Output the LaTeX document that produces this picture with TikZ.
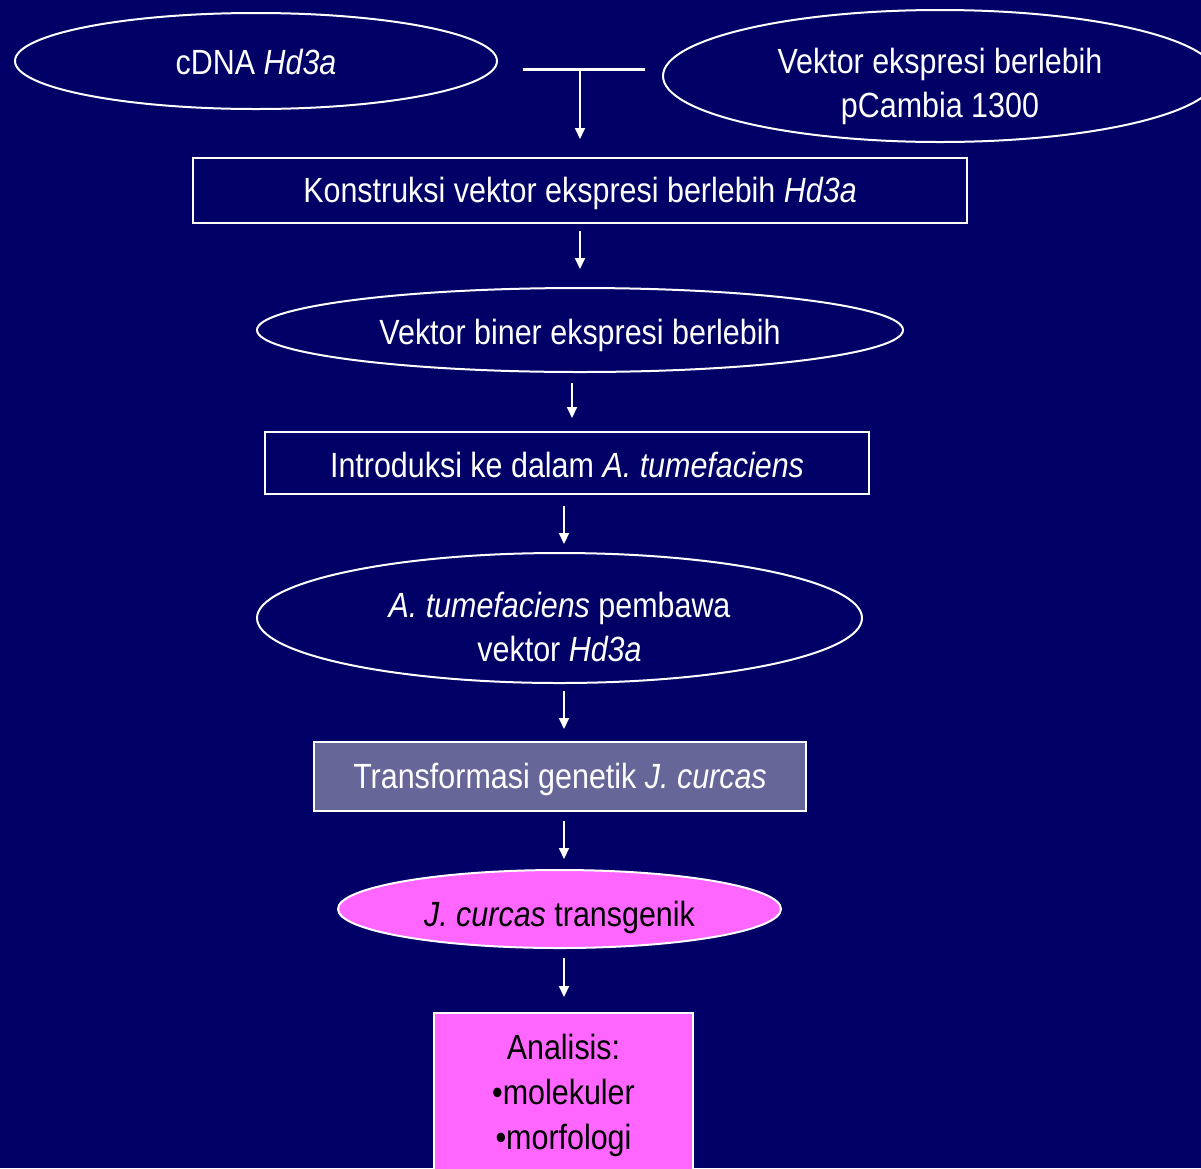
\documentclass[tikz,border=0pt]{standalone}
\usepackage{fontspec}
\setmainfont[FakeStretch=0.87]{Liberation Sans}
\usetikzlibrary{shapes.geometric,arrows.meta}
\definecolor{bg}{HTML}{000066}
\definecolor{slate}{HTML}{666699}
\definecolor{pink}{HTML}{FF66FF}
\tikzset{
  ell/.style={ellipse,draw=white,line width=2pt,inner sep=0pt},
  boxw/.style={rectangle,draw=white,line width=2pt,inner sep=0pt},
  lbl/.style={text=white,align=center,inner sep=0pt,font=\fontsize{35}{44}\selectfont},
  lblk/.style={lbl,text=black},
  arr/.style={draw=white,line width=2pt,-{Triangle[length=11pt,width=10pt]}},
  plainline/.style={draw=white,line width=3pt}
}
\begin{document}
\begin{tikzpicture}[x=1pt,y=-1pt]
\fill[bg] (0,0) rectangle (1201,1168);
\useasboundingbox (0,0) rectangle (1201,1168);
\clip (0,0) rectangle (1201,1168);
\node[ell,minimum width=482pt,minimum height=96pt] (c1) at (256,61) {};
\node[lbl] (c1t) at ([yshift=-1pt]c1.center) {cDNA \textit{Hd3a}};
\node[ell,minimum width=554pt,minimum height=132pt] (c2) at (940,76) {};
\node[lbl] (c2t) at ([yshift=-10pt]c2.center) {Vektor ekspresi berlebih\\pCambia 1300};
\coordinate (tl) at (523,69);
\coordinate (tr) at (645,69);
\coordinate (tm) at (580,69);
\draw[plainline] (tl) -- (tr);
\node[boxw,minimum width=774pt,minimum height=65pt] (b1) at (580,190.5) {};
\node[lbl] (b1t) at ([yshift=-3pt]b1.center) {Konstruksi vektor ekspresi berlebih \textit{Hd3a}};
\draw[arr,shorten >=18pt] (tm) -- (tm |- b1.north);
\node[ell,minimum width=646pt,minimum height=84pt] (e3) at (580,330) {};
\node[lbl] (e3t) at ([yshift=-5pt]e3.center) {Vektor biner ekspresi berlebih};
\draw[arr,shorten <=7pt,shorten >=18pt] (b1.south) -- (e3.north);
\node[boxw,minimum width=604pt,minimum height=62pt] (b2) at (567,463) {};
\node[lbl] (b2t) at ([yshift=-2pt]b2.center) {Introduksi ke dalam \textit{A. tumefaciens}};
\draw[arr,shorten <=10pt,shorten >=13pt] ([xshift=-8pt]e3.south) -- ([xshift=5pt]b2.north);
\node[ell,minimum width=605pt,minimum height=130pt] (e4) at (559.5,618) {};
\node[lbl] (e4t) at ([yshift=-9pt]e4.center) {\textit{A. tumefaciens} pembawa\\vektor \textit{Hd3a}};
\draw[arr,shorten <=11pt,shorten >=8pt] ([xshift=-3pt]b2.south) -- ([xshift=4.5pt]e4.north);
\node[boxw,fill=slate,minimum width=492pt,minimum height=69pt] (b3) at (560,776.5) {};
\node[lbl] (b3t) at ([yshift=-3pt]b3.center) {Transformasi genetik \textit{J. curcas}};
\draw[arr,shorten <=7pt,shorten >=12pt] ([xshift=4.5pt]e4.south) -- ([xshift=4pt]b3.north);
\node[ell,fill=pink,minimum width=443pt,minimum height=78pt] (e5) at (559.5,909) {};
\node[lblk] (e5t) at ([yshift=-8pt]e5.center) {\textit{J. curcas} transgenik};
\draw[arr,shorten <=9pt,shorten >=10pt] ([xshift=4pt]b3.south) -- ([xshift=4.5pt]e5.north);
\node[boxw,fill=pink,minimum width=259pt,minimum height=180pt,anchor=north] (b4) at (563.5,1012) {};
\node[lblk,font=\fontsize{35}{45}\selectfont,anchor=north] (b4t) at (563.5,1034) {Analisis:\\•molekuler\\•morfologi};
\draw[arr,shorten <=9pt,shorten >=15pt] ([xshift=4.5pt]e5.south) -- ([xshift=0.5pt]b4.north);
\end{tikzpicture}
\end{document}
